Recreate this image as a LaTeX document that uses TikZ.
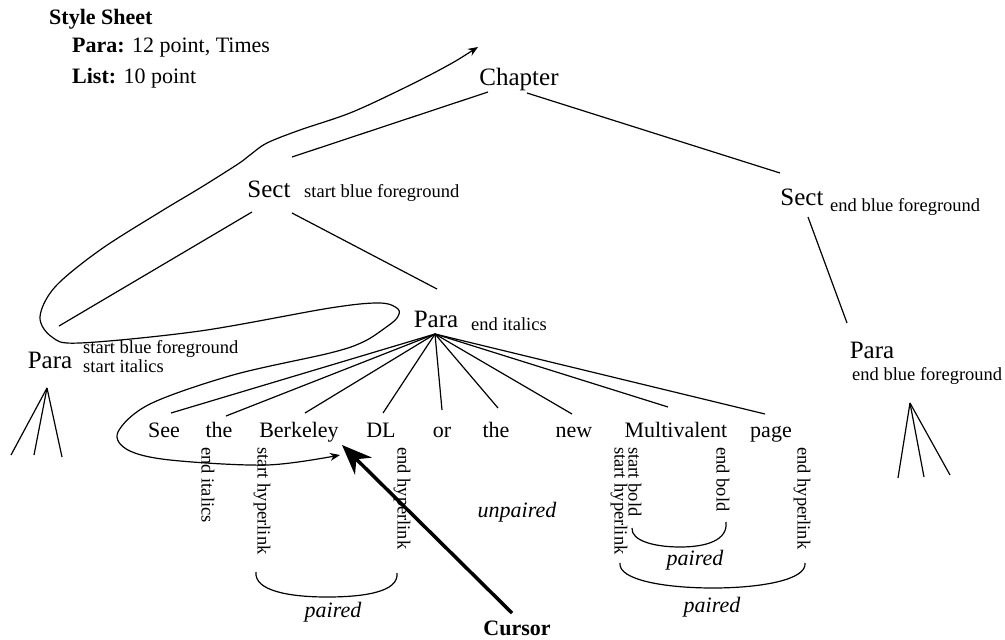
\documentclass[tikz,border=0pt]{standalone}
\usepackage{fontspec}
\setmainfont{Liberation Serif}
\usetikzlibrary{arrows.meta}
\tikzset{
  bigt/.style={font=\fontsize{25}{28}\selectfont, inner sep=0pt, anchor=base},
  wordt/.style={font=\fontsize{22}{25}\selectfont, inner sep=0pt, anchor=base},
  labt/.style={font=\fontsize{18.5}{19}\selectfont, inner sep=0pt, anchor=base west},
  vlab/.style={font=\fontsize{18.5}{14}\selectfont, inner sep=0pt, rotate=-90, anchor=west, align=left},
  sheett/.style={font=\fontsize{22}{25}\selectfont, inner sep=0pt, anchor=base west},
  italt/.style={font=\fontsize{22}{25}\selectfont\itshape, inner sep=0pt, anchor=center},
  edge/.style={line width=1.2pt},
  brack/.style={line width=1.2pt},
  loopcurve/.style={line width=1.2pt, {Stealth[length=10pt,width=8pt]}-{Stealth[length=10pt,width=8pt]}},
  cursorarrow/.style={line width=3.5pt, -{Stealth[length=30pt,width=24pt]}}
}
\begin{document}
\begin{tikzpicture}[x=1pt,y=-1pt]
\useasboundingbox (0,0) rectangle (1005,640);

% style sheet
\node[sheett] (ss) at (49,24) {\textbf{Style Sheet}};
\node[sheett] (ssp) at (72,52) {\textbf{Para:} 12 point, Times};
\node[sheett] (ssl) at (72,83) {\textbf{List:} 10 point};

% tree nodes
\node[bigt] (chapter) at (519,85) {Chapter};
\node[bigt] (sectL) at (269,197) {Sect};
\node[labt] (sectLlab) at (304,197) {start blue foreground};
\node[bigt] (sectR) at (802,205) {Sect};
\node[labt] (sectRlab) at (830,211) {end blue foreground};
\node[bigt] (paraM) at (436,327) {Para};
\node[labt] (paraMlab) at (471,330) {end italics};
\node[bigt] (paraL) at (50,368) {Para};
\node[labt] (paraLlab1) at (83,353) {start blue foreground};
\node[labt] (paraLlab2) at (83,372) {start italics};
\node[bigt] (paraR) at (872,358) {Para};
\node[labt] (paraRlab) at (852,380) {end blue foreground};

% words
\node[wordt] (w1) at (164,437) {See};
\node[wordt] (w2) at (219,437) {the};
\node[wordt] (w3) at (299,437) {Berkeley};
\node[wordt] (w4) at (381,437) {DL};
\node[wordt] (w5) at (442,437) {or};
\node[wordt] (w6) at (496,437) {the};
\node[wordt] (w7) at (574,437) {new};
\node[wordt] (w8) at (676,437) {Multivalent};
\node[wordt] (w9) at (771,437) {page};

% attachment points
\coordinate (chapter-l) at (488,92);
\coordinate (chapter-r) at (527,93);
\coordinate (sectL-t) at (292,157);
\coordinate (sectL-bl) at (252,212);
\coordinate (sectL-br) at (292,213);
\coordinate (sectR-t) at (780,173);
\coordinate (sectR-b) at (808,217);
\coordinate (paraL-t) at (59,326);
\coordinate (paraM-t) at (437,289);
\coordinate (paraM-hub) at (435,334);
\coordinate (paraR-t) at (847,323);
\coordinate (paraL-hub) at (47,388);
\coordinate (paraR-hub) at (910,403);
\coordinate (w1-t) at (171,413);
\coordinate (w2-t) at (226,416);
\coordinate (w3-t) at (305,413);
\coordinate (w4-t) at (383,413);
\coordinate (w5-t) at (442,410);
\coordinate (w6-t) at (498,408);
\coordinate (w7-t) at (572,414);
\coordinate (w8-t) at (668,407);
\coordinate (w9-t) at (765,414);
\coordinate (pl1) at (11,455);
\coordinate (pl2) at (34,455);
\coordinate (pl3) at (62,457);
\coordinate (pr1) at (898,478);
\coordinate (pr2) at (924,477);
\coordinate (pr3) at (950,475);

% tree edges
\draw[edge] (chapter-l) -- (sectL-t);
\draw[edge] (chapter-r) -- (sectR-t);
\draw[edge] (sectL-bl) -- (paraL-t);
\draw[edge] (sectL-br) -- (paraM-t);
\draw[edge] (sectR-b) -- (paraR-t);
\foreach \w in {w1,w2,w3,w4,w5,w6,w7,w8,w9}
  \draw[edge] (paraM-hub) -- (\w-t);
\foreach \p in {pl1,pl2,pl3}
  \draw[edge] (paraL-hub) -- (\p);
\foreach \p in {pr1,pr2,pr3}
  \draw[edge] (paraR-hub) -- (\p);

% traversal curve
\coordinate (curve-start) at (478,47);
\coordinate (curve-end) at (340,455);
\draw[loopcurve] plot[smooth, tension=0.55] coordinates {
  (478,47) (445,67) (400,90) (350,113) (300,130) (267,143) (250,155)
  (238,164) (200,188) (160,212)
  (100,250) (55,287) (40,317) (52,337) (80,343) (200,331) (330,308)
  (380,303) (398,309) (397,318) (385,328) (363,342) (330,353) (233,375) (150,404)
  (118,432) (128,450) (170,460) (267,465) (340,455)};

% vertical labels
\node[vlab] (v1) at (208,447) {end italics};
\node[vlab] (v2) at (262,447) {start hyperlink};
\node[vlab] (v3) at (402,447) {end hyperlink};
\node[vlab] (v4) at (626,447) {start bold\\start hyperlink};
\node[vlab] (v5) at (723,447) {end bold};
\node[vlab] (v6) at (802,447) {end hyperlink};

% brackets
\coordinate (b1l) at (256,572);
\coordinate (b1r) at (397,573);
\coordinate (b2l) at (632,528);
\coordinate (b2r) at (726,522);
\coordinate (b3l) at (620,563);
\coordinate (b3r) at (805,563);
\draw[brack] (b1l) .. controls (254,591) and (290,597) .. (327,597) .. controls (364,597) and (399,592) .. (b1r);
\draw[brack] (b2l) .. controls (631,541) and (655,547) .. (680,547) .. controls (707,547) and (728,540) .. (b2r);
\draw[brack] (b3l) .. controls (618,580) and (665,588) .. (713,588) .. controls (760,588) and (807,580) .. (b3r);

\node[italt] (pair1) at (333,612) {paired};
\node[italt] (pair2) at (695,560) {paired};
\node[italt] (pair3) at (712,607) {paired};
\node[italt] (unp) at (517,512) {unpaired};

% cursor
\node[font=\fontsize{22}{25}\selectfont\bfseries, inner sep=0pt] (cursor) at (517,628) {Cursor};
\coordinate (cursor-tail) at (512,613);
\coordinate (cursor-tip) at (342,445);
\draw[cursorarrow] (cursor-tail) -- (cursor-tip);
\end{tikzpicture}
\end{document}
